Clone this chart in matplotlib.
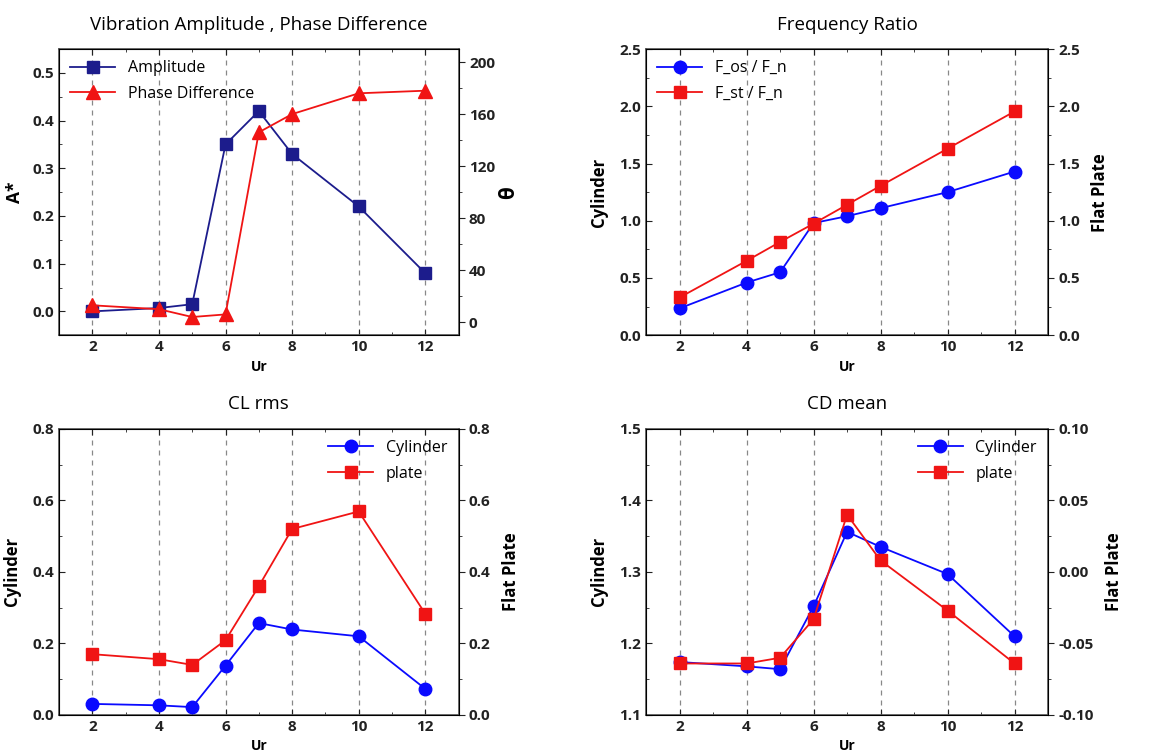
import numpy as np
import matplotlib
matplotlib.use('Agg')
import matplotlib.pyplot as plt
from matplotlib.ticker import MultipleLocator, FormatStrFormatter

plt.rcParams['font.family'] = ['Open Sans', 'DejaVu Sans']

# Reduced velocity values shared by every panel
ur = [2, 4, 5, 6, 7, 8, 10, 12]

# Vibration amplitude and phase difference
amplitude = [0.0, 0.007, 0.015, 0.35, 0.42, 0.33, 0.22, 0.08]
phase_diff = [13, 10, 4, 6, 146, 160, 176, 178]

# Frequency ratios
f_os_ratio = [0.235, 0.46, 0.55, 0.98, 1.04, 1.11, 1.25, 1.43]
f_st_ratio = [0.33, 0.65, 0.815, 0.975, 1.14, 1.305, 1.63, 1.955]

# Lift coefficient rms
cl_cylinder = [0.031, 0.027, 0.022, 0.138, 0.257, 0.239, 0.22, 0.073]
cl_plate = [0.17, 0.156, 0.14, 0.209, 0.36, 0.52, 0.569, 0.283]

# Mean drag coefficient
cd_cylinder = [1.174, 1.168, 1.164, 1.252, 1.356, 1.335, 1.297, 1.21]
cd_plate = [-0.064, -0.064, -0.06, -0.033, 0.040, 0.008, -0.027, -0.064]

navy = '#1c1c8c'
blue = '#0a0aff'
red = '#f01414'
spine_col = '#555555'


def style_axes(ax, ylim, ymajor, yminor):
    ax.set_xlim(1, 13)
    ax.set_ylim(*ylim)
    ax.xaxis.set_major_locator(MultipleLocator(2))
    ax.xaxis.set_minor_locator(MultipleLocator(1))
    ax.yaxis.set_major_locator(MultipleLocator(ymajor))
    ax.yaxis.set_minor_locator(MultipleLocator(yminor))
    ax.tick_params(which='both', direction='in', top=True, colors='#222222',
                   labelsize=11)
    ax.tick_params(which='major', length=4)
    ax.tick_params(which='minor', length=2)
    for lbl in ax.get_xticklabels() + ax.get_yticklabels():
        lbl.set_fontweight('bold')
    for sp in ax.spines.values():
        sp.set_color(spine_col)
        sp.set_linewidth(1.2)
    for x in [2, 4, 6, 8, 10, 12]:
        ax.axvline(x, color='#888888', ls=(0, (4, 4)), lw=0.9, zorder=0)
    ax.set_xlabel('Ur', fontsize=10, fontweight='bold', labelpad=4)


def style_twin(ax2, ylim, ymajor, yminor):
    ax2.set_ylim(*ylim)
    ax2.yaxis.set_major_locator(MultipleLocator(ymajor))
    ax2.yaxis.set_minor_locator(MultipleLocator(yminor))
    ax2.tick_params(which='both', direction='out', colors='#222222', labelsize=11)
    ax2.tick_params(which='major', length=4)
    ax2.tick_params(which='minor', length=2)


def bold_ticks(ax2):
    for lbl in ax2.get_yticklabels():
        lbl.set_fontweight('bold')


fig = plt.figure(figsize=(11.58, 7.55), dpi=100)
positions = [
    [0.051, 0.556, 0.345, 0.379],
    [0.558, 0.556, 0.347, 0.379],
    [0.051, 0.053, 0.345, 0.379],
    [0.558, 0.053, 0.347, 0.379],
]
axes = [fig.add_axes(p) for p in positions]

leg_kw = dict(frameon=False, fontsize=11.5, handlelength=2.8, borderaxespad=0.3,
              labelspacing=0.6)

# Panel 1: amplitude and phase difference
ax = axes[0]
style_axes(ax, (-0.05, 0.55), 0.1, 0.05)
ax2 = ax.twinx()
style_twin(ax2, (-10, 210), 40, 20)
bold_ticks(ax2)
l1, = ax.plot(ur, amplitude, color=navy, marker='s', ms=8, lw=1.3, zorder=3)
l2, = ax2.plot(ur, phase_diff, color=red, marker='^', ms=10, lw=1.3, zorder=3)
ax.set_ylabel('A*', fontsize=12.5, fontweight='bold', labelpad=6)
ax2.set_ylabel('\u03b8', fontsize=15, fontweight='bold', labelpad=2)
ax.set_title('Vibration Amplitude , Phase Difference', fontsize=13.5, pad=14)
ax2.legend([l1, l2], ['Amplitude', 'Phase Difference'], loc='upper left', **leg_kw)

# Panel 2: frequency ratios
ax = axes[1]
style_axes(ax, (0, 2.5), 0.5, 0.25)
ax2 = ax.twinx()
style_twin(ax2, (0, 2.5), 0.5, 0.25)
bold_ticks(ax2)
l1, = ax.plot(ur, f_os_ratio, color=blue, marker='o', ms=9, lw=1.3, zorder=3)
l2, = ax2.plot(ur, f_st_ratio, color=red, marker='s', ms=8.5, lw=1.3, zorder=3)
ax.set_ylabel('Cylinder', fontsize=12, fontweight='bold', labelpad=8)
ax2.set_ylabel('Flat Plate', fontsize=12, fontweight='bold', labelpad=8)
ax.set_title('Frequency Ratio', fontsize=13.5, pad=14)
ax2.legend([l1, l2], ['F_os / F_n', 'F_st / F_n'], loc='upper left', **leg_kw)

# Panel 3: lift coefficient rms
ax = axes[2]
style_axes(ax, (0, 0.8), 0.2, 0.1)
ax2 = ax.twinx()
style_twin(ax2, (0, 0.8), 0.2, 0.1)
bold_ticks(ax2)
l1, = ax.plot(ur, cl_cylinder, color=blue, marker='o', ms=9, lw=1.3, zorder=3)
l2, = ax2.plot(ur, cl_plate, color=red, marker='s', ms=8.5, lw=1.3, zorder=3)
ax.set_ylabel('Cylinder', fontsize=12, fontweight='bold', labelpad=8)
ax2.set_ylabel('Flat Plate', fontsize=12, fontweight='bold', labelpad=8)
ax.set_title('CL rms', fontsize=13.5, pad=14)
ax2.legend([l1, l2], ['Cylinder', 'plate'], loc='upper right', **leg_kw)

# Panel 4: mean drag coefficient
ax = axes[3]
style_axes(ax, (1.1, 1.5), 0.1, 0.05)
ax2 = ax.twinx()
style_twin(ax2, (-0.10, 0.10), 0.05, 0.025)
ax2.yaxis.set_major_formatter(FormatStrFormatter('%.2f'))
bold_ticks(ax2)
l1, = ax.plot(ur, cd_cylinder, color=blue, marker='o', ms=9, lw=1.3, zorder=3)
l2, = ax2.plot(ur, cd_plate, color=red, marker='s', ms=8.5, lw=1.3, zorder=3)
ax.set_ylabel('Cylinder', fontsize=12, fontweight='bold', labelpad=8)
ax2.set_ylabel('Flat Plate', fontsize=12, fontweight='bold', labelpad=8)
ax.set_title('CD mean', fontsize=13.5, pad=14)
ax2.legend([l1, l2], ['Cylinder', 'plate'], loc='upper right', **leg_kw)

fig.savefig('out.png', dpi=100)
